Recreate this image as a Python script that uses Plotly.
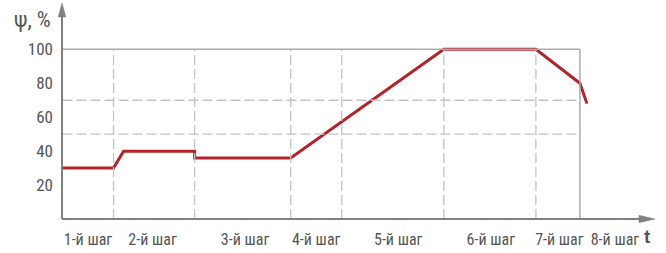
import plotly.graph_objects as go

# step boundaries (time, arbitrary units)
step_bounds = [0, 5.1, 13.2, 22.8, 27.9, 38.1, 47.3, 51.7]
step_labels = ["1-й шаг", "2-й шаг", "3-й шаг", "4-й шаг", "5-й шаг", "6-й шаг", "7-й шаг", "8-й шаг"]
label_pos = [2.55, 9.0, 18.25, 25.35, 33.55, 42.8, 49.65, 55.2]

# humidity profile
t_vals = [0, 5.1, 6.1, 13.2, 13.2, 22.8, 38.1, 47.3, 51.7, 52.4]
psi_vals = [30, 30, 40, 40, 36, 36, 100, 100, 80, 68]

y_ticks = [20, 40, 60, 80, 100]
h_dashed = [50, 70]
top_level = 100

FONT = "Liberation Sans Narrow, Roboto Condensed, Arial Narrow, DejaVu Sans Condensed, sans-serif"
AX = "#808080"
GRID = "#c4c4c4"
BOX = "#ababab"
RED = "#b3232b"
TXT = "#555555"

X_RANGE = [-0.05, 59.2]
Y_RANGE = [0, 127.3]

fig = go.Figure()

shapes = []
for v in h_dashed:
    shapes.append(dict(type="line", xref="x", yref="y", x0=step_bounds[0], x1=step_bounds[-1], y0=v, y1=v,
                       line=dict(color=GRID, width=1.3, dash="10px,4px")))
for b in step_bounds[1:-1]:
    shapes.append(dict(type="line", xref="x", yref="y", x0=b, x1=b, y0=0, y1=top_level,
                       line=dict(color=GRID, width=1.3, dash="10px,4px")))
shapes.append(dict(type="line", xref="x", yref="y", x0=step_bounds[0], x1=step_bounds[-1], y0=top_level, y1=top_level,
                   line=dict(color=BOX, width=1.5)))
shapes.append(dict(type="line", xref="x", yref="y", x0=step_bounds[-1], x1=step_bounds[-1], y0=0, y1=top_level,
                   line=dict(color=BOX, width=1.5)))
# axes with arrows
shapes.append(dict(type="line", xref="paper", yref="paper", x0=0, x1=0.985, y0=0, y1=0,
                   line=dict(color=AX, width=2)))
shapes.append(dict(type="line", xref="paper", yref="paper", x0=0, x1=0, y0=0, y1=0.95,
                   line=dict(color=AX, width=2)))
shapes.append(dict(type="path", xref="paper", yref="paper",
                   path="M 0.973,-0.017 L 1,0 L 0.973,0.017 Z", fillcolor=AX, line=dict(color=AX, width=0.5)))
shapes.append(dict(type="path", xref="paper", yref="paper",
                   path="M -0.0065,0.935 L 0,1 L 0.0065,0.935 Z", fillcolor=AX, line=dict(color=AX, width=0.5)))

fig.add_trace(go.Scatter(x=t_vals, y=psi_vals, mode="lines",
                         line=dict(color=RED, width=3), hoverinfo="skip", showlegend=False))

fig.update_layout(
    width=666, height=253,
    margin=dict(l=62, r=11, t=3, b=34),
    paper_bgcolor="white", plot_bgcolor="white",
    shapes=shapes,
    font=dict(family=FONT, size=17, color=TXT),
    xaxis=dict(range=X_RANGE, showgrid=False, zeroline=False, showline=False,
               tickmode="array", tickvals=label_pos, ticktext=step_labels, ticks="",
               ticklabelstandoff=9, automargin=False,
               tickfont=dict(family=FONT, size=16, color=TXT)),
    yaxis=dict(range=Y_RANGE, showgrid=False, zeroline=False, showline=False,
               tickmode="array", tickvals=y_ticks, ticktext=[str(v) for v in y_ticks], ticks="",
               ticklabelstandoff=8, automargin=False,
               tickfont=dict(family=FONT, size=17, color=TXT)),
    annotations=[
        dict(text="ψ, %", xref="paper", yref="paper", x=-0.05, y=0.925, xanchor="center", yanchor="middle",
             showarrow=False, font=dict(family=FONT, size=22, color=TXT)),
        dict(text="<b>t</b>", xref="paper", yref="paper", x=0.988, y=-0.08, xanchor="center", yanchor="middle",
             showarrow=False, font=dict(family="Liberation Sans, Arial, sans-serif", size=19, color=TXT)),
    ],
)

fig.write_html("out.html", config={"displayModeBar": False},
               post_script="document.body.style.margin='0';document.body.style.padding='0';")
